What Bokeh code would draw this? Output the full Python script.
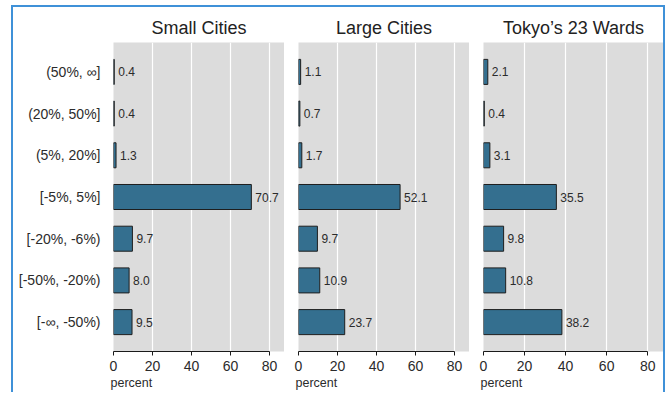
from bokeh.plotting import figure
from bokeh.models import ColumnDataSource, FactorRange, Range1d, FixedTicker, Title
from bokeh.layouts import row
from bokeh.embed import file_html
from bokeh.resources import INLINE
from bokeh.core.properties import value

categories = ["(50%, ∞]", "(20%, 50%]", "(5%, 20%]", "[-5%, 5%]",
              "[-20%, -6%)", "[-50%, -20%)", "[-∞, -50%)"]
titles = ["Small Cities", "Large Cities", "Tokyo’s 23 Wards"]
small_cities = [0.4, 0.4, 1.3, 70.7, 9.7, 8.0, 9.5]
large_cities = [1.1, 0.7, 1.7, 52.1, 9.7, 10.9, 23.7]
tokyo_wards = [2.1, 0.4, 3.1, 35.5, 9.8, 10.8, 38.2]
x_ticks = [0, 20, 40, 60, 80]
x_label = "percent"

FONT = "Liberation Sans"
TXT = "#2b2b2b"

series = [small_cities, large_cities, tokyo_wards]
widths = [271, 185, 194]
borders_left = [100, 14, 14]
figs = []
for i, (title, vals) in enumerate(zip(titles, series)):
    src = ColumnDataSource(dict(cat=categories, val=vals,
                                lab=["%.1f" % v for v in vals]))
    p = figure(width=widths[i], height=385,
               y_range=FactorRange(factors=categories[::-1], range_padding=0.205,
                                   range_padding_units="absolute"),
               x_range=Range1d(0, 87.7),
               output_backend="svg", toolbar_location=None, title=title,
               min_border_left=borders_left[i], min_border_right=0,
               min_border_top=35, min_border_bottom=41)
    p.title.text_font_size = "18px"
    p.title.text_font_style = "normal"
    p.title.align = "center"
    p.title.text_color = "#222222"
    p.title.text_font = FONT
    p.background_fill_color = "#dcdcdc"
    p.border_fill_color = "white"
    p.outline_line_color = None

    p.xgrid.ticker = FixedTicker(ticks=x_ticks)
    p.xgrid.grid_line_color = "white"
    p.xgrid.grid_line_width = 1.2
    p.ygrid.grid_line_color = None

    xa = p.xaxis[0]
    xa.ticker = FixedTicker(ticks=x_ticks)
    xa.bounds = (0, 80)
    xa.axis_line_color = "#1a1a1a"
    xa.major_tick_line_color = "#1a1a1a"
    xa.major_tick_in = 0
    xa.major_tick_out = 4
    xa.minor_tick_line_color = None
    xa.major_label_text_font_size = "14px"
    xa.major_label_text_font = FONT
    xa.major_label_text_color = TXT
    xa.major_label_standoff = 5

    lab = Title(text=x_label, align="left", offset=-3, standoff=0,
                text_font_size="12.5px", text_font_style="normal",
                text_font=FONT, text_color=TXT)
    p.add_layout(lab, "below")

    ya = p.yaxis[0]
    if i == 0:
        ya.axis_line_color = None
        ya.major_tick_line_color = None
        ya.minor_tick_line_color = None
        ya.major_label_text_font_size = "14px"
        ya.major_label_text_font = FONT
        ya.major_label_text_color = TXT
        ya.major_label_standoff = 7
    else:
        ya.visible = False

    p.hbar(y="cat", left=0, right="val", height=0.6, source=src,
           fill_color="#346f8f", line_color="#1e1e1e", line_width=1)
    p.text(x="val", y="cat", text="lab", source=src, x_offset=4,
           text_baseline="middle", text_align="left", text_font_size="12px",
           text_color=TXT, text_font=value(FONT))
    figs.append(p)

layout = row(*figs, styles={"border-top": "2px solid #3f91d8",
                            "border-left": "2px solid #3f91d8",
                            "border-right": "2px solid #3f91d8",
                            "margin-left": "11px", "margin-top": "5px"})

open("out.html", "w").write(file_html(layout, INLINE))
